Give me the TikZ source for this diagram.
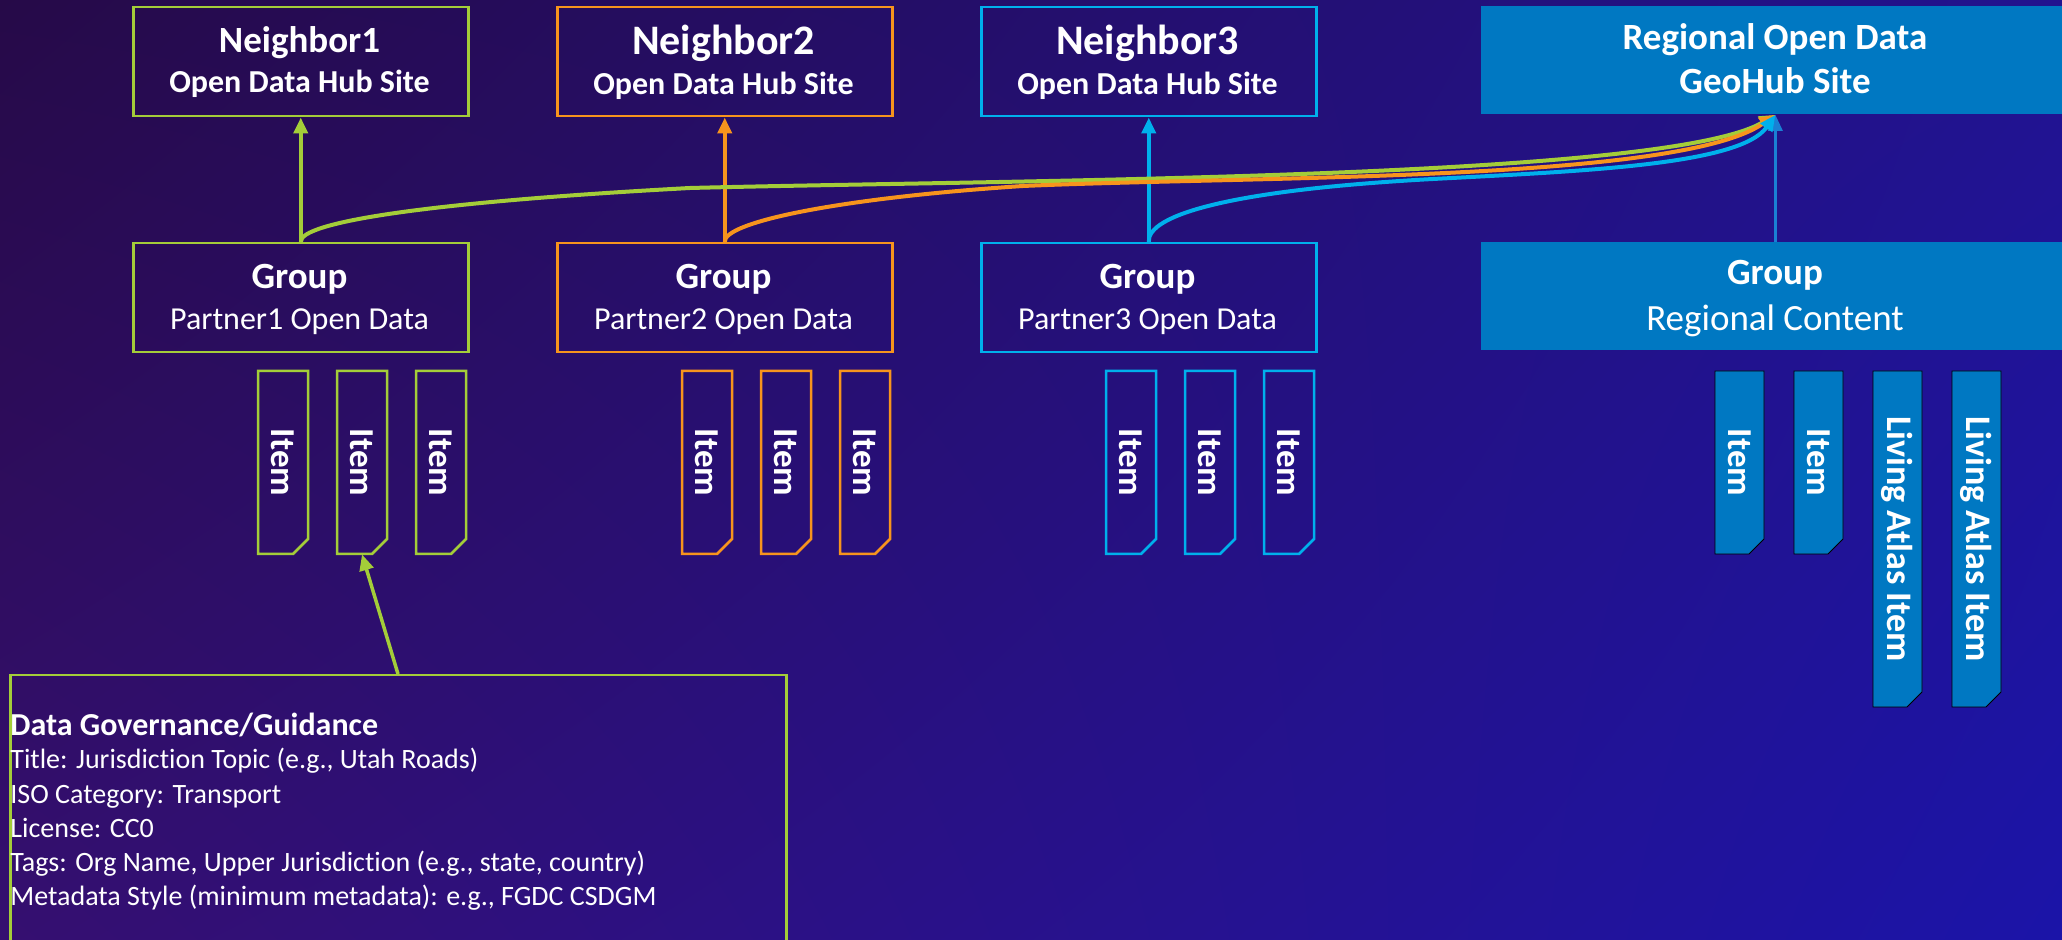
\documentclass[tikz,border=0pt]{standalone}
\usepackage{fontspec}
\setmainfont{Carlito}[Ligatures={NoCommon}]
\usetikzlibrary{arrows.meta,shadings}
\definecolor{cgreen}{HTML}{A4CD39}
\definecolor{corange}{HTML}{F7941D}
\definecolor{ccyan}{HTML}{00B0EC}
\definecolor{cblue}{HTML}{0078C2}
\definecolor{carrowblue}{HTML}{1A80D4}
\definecolor{bgUL}{HTML}{260A48}
\definecolor{bgUR}{HTML}{22138F}
\definecolor{bgLL}{HTML}{350F70}
\definecolor{bgLR}{HTML}{1B14A8}
\newcommand\fs[1]{\fontsize{#1pt}{#1pt}\selectfont}
\newcommand\itm[6]{%
  \draw[#4] (#2,371) -- ++(#6,0) -- (#2+#6,#3-15) -- (#2+#6-15,#3) -- (#2,#3) -- cycle;
  \node[itemnode, minimum width=#6*0.5pt, minimum height={(#3-371)*0.5pt}] (#1) at ({#2+#6/2},{(371+#3)/2}) {\rotatebox{-90}{#5}};
}
\begin{document}
\begin{tikzpicture}[x=0.5pt,y=-0.5pt,
  box/.style={draw=#1, line width=1.25pt, minimum width=167.5pt, minimum height=54.5pt, inner sep=0pt, anchor=north west},
  fbox/.style={fill=cblue, draw=none, minimum width=294pt, minimum height=54pt, inner sep=0pt, anchor=north west},
  lbl/.style={text=white, anchor=base, inner sep=0pt},
  gline/.style={text=white, anchor=base west, inner sep=0pt, font=\fs{14}},
  itemnode/.style={inner sep=0pt, text=white, font=\bfseries\fs{17.5}},
  conn/.style={draw=#1, line width=2pt, -{Triangle[length=8pt,width=7pt]}},
  outl/.style={draw=#1, line width=1.25pt},
]
\useasboundingbox (0,0) rectangle (2062,940);
\shade[upper left=bgUL, upper right=bgUR, lower left=bgLL, lower right=bgLR] (0,0) rectangle (2062,940);

% top boxes
\node[box=cgreen] (n1) at (132,6) {};
\node[box=corange] (n2) at (556,6) {};
\node[box=ccyan] (n3) at (980,6) {};
\node[fbox] (reg) at (1481,6) {};
% group boxes
\node[box=cgreen] (g1) at (132,242) {};
\node[box=corange] (g2) at (556,242) {};
\node[box=ccyan] (g3) at (980,242) {};
\node[fbox] (greg) at (1481,242) {};

% labels
\node[lbl, font=\bfseries\fs{18.5}] (n1a) at (299.5,53) {Neighbor1};
\node[lbl, font=\bfseries\fs{16}] (n1b) at (299.5,93) {Open Data Hub Site};
\node[lbl, font=\bfseries\fs{21}] (n2a) at (723.5,55) {Neighbor2};
\node[lbl, font=\bfseries\fs{16}] (n2b) at (723.5,95) {Open Data Hub Site};
\node[lbl, font=\bfseries\fs{21}] (n3a) at (1147.5,55) {Neighbor3};
\node[lbl, font=\bfseries\fs{16}] (n3b) at (1147.5,95) {Open Data Hub Site};
\node[lbl, font=\bfseries\fs{18.5}] (rga) at (1775,50) {Regional Open Data};
\node[lbl, font=\bfseries\fs{18.5}] (rgb) at (1775,94) {GeoHub Site};

\node[lbl, font=\bfseries\fs{18.5}] (g1a) at (299.5,289) {Group};
\node[lbl, font=\fs{16}] (g1b) at (299.5,330) {Partner1 Open Data};
\node[lbl, font=\bfseries\fs{18.5}] (g2a) at (723.5,289) {Group};
\node[lbl, font=\fs{16}] (g2b) at (723.5,330) {Partner2 Open Data};
\node[lbl, font=\bfseries\fs{18.5}] (g3a) at (1147.5,289) {Group};
\node[lbl, font=\fs{16}] (g3b) at (1147.5,330) {Partner3 Open Data};
\node[lbl, font=\bfseries\fs{18.5}] (gra) at (1775,285) {Group};
\node[lbl, font=\fs{18.5}] (grb) at (1775,331) {Regional Content};

% items
\itm{i11}{258}{554}{outl=cgreen}{Item}{50}
\itm{i12}{337}{554}{outl=cgreen}{Item}{50}
\itm{i13}{416}{554}{outl=cgreen}{Item}{50}
\itm{i21}{682}{554}{outl=corange}{Item}{50}
\itm{i22}{761}{554}{outl=corange}{Item}{50}
\itm{i23}{840}{554}{outl=corange}{Item}{50}
\itm{i31}{1106}{554}{outl=ccyan}{Item}{50}
\itm{i32}{1185}{554}{outl=ccyan}{Item}{50}
\itm{i33}{1264}{554}{outl=ccyan}{Item}{50}
\itm{r1}{1715}{554}{fill=cblue}{Item}{49}
\itm{r2}{1794}{554}{fill=cblue}{Item}{49}
\itm{r3}{1873}{707}{fill=cblue}{\fs{18}Living Atlas Item}{49}
\itm{r4}{1952}{707}{fill=cblue}{\fs{18}Living Atlas Item}{49}

% governance box
\node[draw=cgreen, line width=1.25pt, minimum width=388pt, minimum height=150pt, inner sep=0pt, anchor=north west] (gov) at (9,674) {};
\node[gline, font=\bfseries\fs{16}] (gl0) at (10,735) {Data Governance/Guidance};
\node[gline] (gl1) at (10,769) {Title: Jurisdiction Topic (e.g., Utah Roads)};
\node[gline] (gl2) at (10,803) {ISO Category: Transport};
\node[gline] (gl3) at (10,837) {License: CC0};
\node[gline] (gl4) at (10,871) {Tags: Org Name, Upper Jurisdiction (e.g., state, country)};
\node[gline] (gl5) at (10,905) {Metadata Style (minimum metadata): e.g., FGDC CSDGM};
\coordinate (govtop) at (398,674);

% connectors
\draw[conn=cgreen] (g1.north) -- (n1.south);
\draw[conn=corange] (g2.north) -- (n2.south);
\draw[conn=ccyan] (g3.north) -- (n3.south);
\draw[conn=carrowblue, line width=1.5pt] (greg.north) -- (reg.south);
\draw[conn=cgreen] (g1.north) .. controls (299,222) and (430,202) .. (690,188) .. controls (1000,180) and (1665,180) .. (reg.south);
\draw[conn=corange] (g2.north) .. controls (723,222) and (840,198) .. (1023,186) .. controls (1250,176) and (1680,182) .. (reg.south);
\draw[conn=ccyan] (g3.north) .. controls (1147,215) and (1230,190) .. (1433,179) .. controls (1583,171) and (1740,165) .. (reg.south);
\draw[conn=cgreen, line width=1.75pt] (govtop) -- (i12.south);
\end{tikzpicture}
\end{document}
